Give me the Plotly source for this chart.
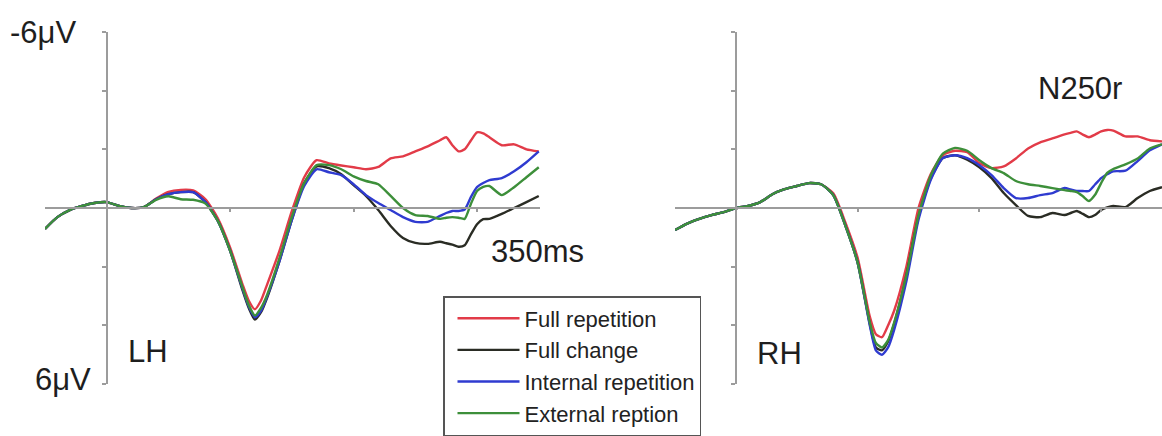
import plotly.graph_objects as go

# time axis (ms)
T = [-50, -40, -30, -20, -10, 0, 10, 20, 30, 40, 50, 60, 70, 80, 90, 100, 110, 115, 120, 125, 130,
     140, 150, 160, 170, 180, 190, 200, 210, 220, 230, 240, 250, 260, 270, 275, 280, 285, 290, 295,
     300, 305, 310, 320, 330, 340, 350]

SERIES = ["Full repetition", "Full change", "Internal repetition", "External reption"]

# ---- Left hemisphere (µV) ----
LH_full_rep = [0.71, 0.31, 0.07, -0.07, -0.17, -0.2, -0.07, 0.0, -0.03, -0.32, -0.55, -0.62, -0.6, -0.3, 0.35, 1.35, 2.6, 3.15, 3.45, 3.15, 2.6,
               1.45, 0.1, -1.05, -1.63, -1.52, -1.45, -1.39, -1.32, -1.4, -1.69, -1.76, -1.93, -2.1, -2.31, -2.41, -2.14, -1.93, -2.0, -2.3,
               -2.58, -2.54, -2.41, -2.14, -2.17, -2.0, -1.93]
LH_full_chg = [0.71, 0.31, 0.07, -0.07, -0.17, -0.2, -0.07, 0.0, -0.03, -0.3, -0.47, -0.54, -0.54, -0.2, 0.44, 1.46, 2.8, 3.4, 3.8, 3.55, 3.05,
               1.8, 0.4, -0.85, -1.42, -1.36, -1.15, -0.78, -0.41, 0.07, 0.61, 1.02, 1.19, 1.22, 1.15, 1.2, 1.25, 1.32, 1.27, 0.9,
               0.55, 0.38, 0.37, 0.2, 0.0, -0.2, -0.41]
LH_int_rep = [0.71, 0.31, 0.07, -0.07, -0.17, -0.2, -0.07, 0.0, -0.03, -0.3, -0.47, -0.54, -0.54, -0.2, 0.44, 1.46, 2.75, 3.35, 3.72, 3.5, 3.0,
              1.8, 0.4, -0.75, -1.32, -1.22, -1.12, -0.81, -0.44, -0.17, 0.07, 0.31, 0.47, 0.47, 0.27, 0.17, 0.1, 0.1, 0.05, -0.37,
              -0.71, -0.85, -0.95, -1.02, -1.25, -1.56, -1.93]
LH_ext_rep = [0.71, 0.31, 0.07, -0.07, -0.17, -0.2, -0.07, 0.0, -0.03, -0.28, -0.4, -0.3, -0.28, -0.15, 0.44, 1.46, 2.7, 3.3, 3.66, 3.4, 2.95,
              1.7, 0.3, -0.85, -1.46, -1.46, -1.32, -1.08, -0.92, -0.81, -0.41, 0.0, 0.24, 0.27, 0.37, 0.33, 0.31, 0.33, 0.37, -0.14,
              -0.58, -0.72, -0.75, -0.44, -0.71, -1.05, -1.39]

# ---- Right hemisphere (µV) ----
RH_full_rep = [0.75, 0.53, 0.37, 0.24, 0.14, 0.0, -0.07, -0.2, -0.47, -0.64, -0.75, -0.85, -0.81, -0.5, 0.5, 1.7, 3.7, 4.3, 4.4, 4.0, 3.5,
               2.0, 0.0, -1.15, -1.8, -1.95, -1.9, -1.53, -1.36, -1.42, -1.69, -2.03, -2.24, -2.37, -2.51, -2.56, -2.61, -2.5, -2.41, -2.5,
               -2.61, -2.66, -2.64, -2.44, -2.44, -2.31, -2.27]
RH_full_chg = [0.75, 0.53, 0.37, 0.24, 0.14, 0.0, -0.07, -0.2, -0.47, -0.64, -0.75, -0.85, -0.81, -0.44, 0.61, 1.86, 3.95, 4.75, 4.85, 4.55, 3.95,
               2.3, 0.3, -1.0, -1.7, -1.8, -1.65, -1.39, -1.02, -0.51, -0.1, 0.27, 0.31, 0.17, 0.24, 0.17, 0.1, 0.2, 0.31, 0.24,
               0.07, -0.02, -0.07, -0.03, -0.34, -0.58, -0.71]
RH_int_rep = [0.75, 0.53, 0.37, 0.24, 0.14, 0.0, -0.07, -0.2, -0.47, -0.64, -0.75, -0.85, -0.81, -0.44, 0.61, 1.86, 4.0, 4.85, 5.0, 4.75, 4.15,
              2.5, 0.4, -0.95, -1.7, -1.8, -1.7, -1.46, -1.12, -0.68, -0.34, -0.34, -0.44, -0.51, -0.68, -0.63, -0.58, -0.58, -0.58, -0.8,
              -1.02, -1.15, -1.25, -1.27, -1.6, -1.97, -2.17]
RH_ext_rep = [0.75, 0.53, 0.37, 0.24, 0.14, 0.0, -0.07, -0.2, -0.47, -0.64, -0.75, -0.85, -0.81, -0.44, 0.61, 1.86, 3.9, 4.6, 4.75, 4.5, 3.9,
              2.3, 0.25, -1.1, -1.85, -2.05, -1.95, -1.63, -1.36, -1.19, -0.92, -0.81, -0.75, -0.68, -0.61, -0.58, -0.54, -0.4, -0.24, -0.45,
              -0.85, -1.2, -1.33, -1.49, -1.69, -2.03, -2.17]

COLORS = ["#e23b48", "#2a2c24", "#2f3bd0", "#3d8f3a"]

LH = [LH_full_rep, LH_full_chg, LH_int_rep, LH_ext_rep]
RH = [RH_full_rep, RH_full_chg, RH_int_rep, RH_ext_rep]

W, H = 1162, 436
YDOM = [1 - 385 / H, 1 - 32 / H]

fig = go.Figure()
for i, name in enumerate(SERIES):
    fig.add_trace(go.Scatter(x=T, y=LH[i], mode="lines", name=name, legendgroup=name, legendrank=i + 1,
                             line=dict(color=COLORS[i], width=2.4, shape="spline", smoothing=0.6),
                             xaxis="x", yaxis="y", showlegend=True))
for i, name in enumerate(SERIES):
    fig.add_trace(go.Scatter(x=T, y=RH[i], mode="lines", name=name, legendgroup=name,
                             line=dict(color=COLORS[i], width=2.4, shape="spline", smoothing=0.6),
                             xaxis="x2", yaxis="y2", showlegend=False))

axcol = "#9c9c9c"
common_x = dict(range=[-50, 351], showgrid=False, zeroline=False, showline=True, linecolor=axcol, linewidth=2,
                ticks="outside", ticklen=3, tickcolor=axcol, tickwidth=2, tickvals=[100, 200, 300],
                showticklabels=False, anchor="free", position=(YDOM[0] + YDOM[1]) / 2)
common_y = dict(range=[6, -6], domain=YDOM, showgrid=False, zeroline=False, showline=True, linecolor=axcol,
                linewidth=2, ticks="outside", ticklen=4, tickcolor=axcol, tickwidth=2,
                tickvals=[-6, -4, -2, 0, 2, 4, 6], showticklabels=False, anchor="free")

fig.update_layout(
    width=W, height=H, margin=dict(l=0, r=0, t=0, b=0),
    paper_bgcolor="white", plot_bgcolor="rgba(0,0,0,0)",
    xaxis=dict(common_x, domain=[45 / W, 540 / W]),
    xaxis2=dict(common_x, domain=[675 / W, 1.0], range=[-50, 350]),
    yaxis=dict(common_y, position=107 / W),
    yaxis2=dict(common_y, position=736 / W),
    legend=dict(x=443 / W, y=1 - 297 / H, xanchor="left", yanchor="top", bgcolor="white",
                bordercolor="#555555", borderwidth=1.5, tracegroupgap=0, indentation=8, itemwidth=62,
                font=dict(family="Liberation Sans, Arial", size=22, color="#222222")),
    font=dict(family="Liberation Sans, Arial", color="#1e1e1e"),
)

txt = dict(showarrow=False, xref="paper", yref="paper", font=dict(size=31, color="#1e1e1e"))
fig.add_annotation(text="-6μV", x=78 / W, y=1 - 33 / H, xanchor="right", yanchor="middle", **txt)
fig.add_annotation(text="6μV", x=93 / W, y=1 - 380 / H, xanchor="right", yanchor="middle", **txt)
fig.add_annotation(text="LH", x=126 / W, y=1 - 352 / H, xanchor="left", yanchor="middle", **txt)
fig.add_annotation(text="RH", x=755 / W, y=1 - 354 / H, xanchor="left", yanchor="middle", **txt)
fig.add_annotation(text="350ms", x=489 / W, y=1 - 252 / H, xanchor="left", yanchor="middle", **txt)
fig.add_annotation(text="N250r", x=1036 / W, y=1 - 89 / H, xanchor="left", yanchor="middle", **txt)

fig.write_html("out.html", config={"displayModeBar": False},
               post_script="document.body.style.margin='0';document.body.style.overflow='hidden';")
